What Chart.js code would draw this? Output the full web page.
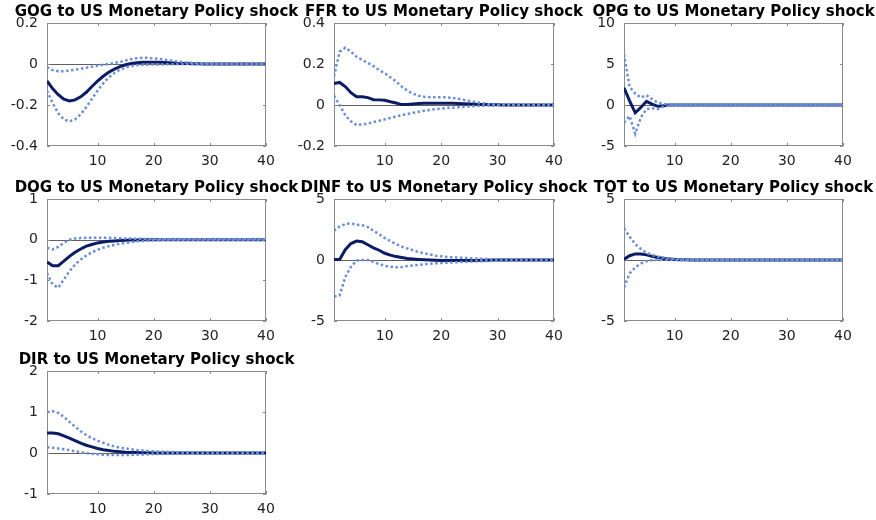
<!DOCTYPE html>
<html>
<head>
<meta charset="utf-8">
<script src="https://cdn.jsdelivr.net/npm/chart.js@4"></script>
<style>
  html, body { margin: 0; padding: 0; background: #fff; overflow: hidden; }
  body { width: 876px; height: 520px; position: relative; }
  canvas { position: absolute; }
</style>
</head>
<body>
<canvas id="gog"></canvas>
<canvas id="ffr"></canvas>
<canvas id="opg"></canvas>
<canvas id="dog"></canvas>
<canvas id="dinf"></canvas>
<canvas id="tot"></canvas>
<canvas id="dir"></canvas>
<script>
// horizons 1..40 and the x tick labels
const horizons = [1,2,3,4,5,6,7,8,9,10,11,12,13,14,15,16,17,18,19,20,21,22,23,24,25,26,27,28,29,30,31,32,33,34,35,36,37,38,39,40];
const xTicks = [10, 20, 30, 40];

// GOG
const gogIrf = [-0.083,-0.12,-0.15,-0.172,-0.18,-0.175,-0.16,-0.138,-0.11,-0.083,-0.06,-0.04,-0.025,-0.013,-0.004,0.002,0.006,0.008,0.009,0.009,0.008,0.007,0.006,0.004,0.003,0.002,0.001,0.001,0,0,0,0,0,0,0,0,0,0,0,0];
const gogHi  = [-0.015,-0.03,-0.035,-0.035,-0.032,-0.028,-0.023,-0.018,-0.013,-0.008,-0.004,0,0.005,0.01,0.017,0.023,0.028,0.03,0.03,0.028,0.025,0.021,0.017,0.013,0.01,0.007,0.005,0.003,0.002,0.001,0,0,0,0,0,0,0,0,0,0];
const gogLo  = [-0.13,-0.19,-0.24,-0.27,-0.28,-0.27,-0.245,-0.21,-0.17,-0.13,-0.095,-0.066,-0.044,-0.028,-0.017,-0.01,-0.006,-0.004,-0.003,-0.003,-0.002,-0.002,-0.001,-0.001,0,0,0,0,0,0,0,0,0,0,0,0,0,0,0,0];
const gogTicks = [-0.4, -0.2, 0, 0.2];

// FFR
const ffrIrf = [0.105,0.11,0.09,0.06,0.04,0.04,0.036,0.026,0.025,0.023,0.016,0.01,0.002,0.003,0.005,0.007,0.008,0.008,0.009,0.009,0.009,0.008,0.007,0.006,0.005,0.004,0.003,0.002,0.001,0.001,0,0,0,0,0,0,0,0,0,0];
const ffrHi  = [0.14,0.26,0.28,0.26,0.235,0.22,0.205,0.19,0.17,0.155,0.135,0.115,0.09,0.07,0.055,0.045,0.04,0.038,0.038,0.038,0.037,0.035,0.03,0.025,0.02,0.015,0.01,0.006,0.003,0.002,0.001,0,0,0,0,0,0,0,0,0];
const ffrLo  = [0.045,0,-0.05,-0.08,-0.098,-0.095,-0.09,-0.083,-0.077,-0.07,-0.063,-0.056,-0.05,-0.044,-0.038,-0.033,-0.028,-0.024,-0.02,-0.017,-0.015,-0.013,-0.011,-0.009,-0.007,-0.005,-0.004,-0.003,-0.002,-0.001,0,0,0,0,0,0,0,0,0,0];
const ffrTicks = [-0.2, 0, 0.2, 0.4];

// OPG
const opgIrf = [2.1,0.5,-0.95,-0.3,0.45,0.1,-0.16,-0.1,0,0,0,0,0,0,0,0,0,0,0,0,0,0,0,0,0,0,0,0,0,0,0,0,0,0,0,0,0,0,0,0];
const opgHi  = [6.2,2.2,1.4,0.9,1.2,0.7,0.3,0.15,0.05,0.02,0,0,0,0,0,0,0,0,0,0,0,0,0,0,0,0,0,0,0,0,0,0,0,0,0,0,0,0,0,0];
const opgLo  = [-2.15,-1.35,-3.5,-1.5,-0.5,-0.4,-0.5,-0.2,-0.05,-0.02,0,0,0,0,0,0,0,0,0,0,0,0,0,0,0,0,0,0,0,0,0,0,0,0,0,0,0,0,0,0];
const opgTicks = [-5, 0, 5, 10];

// DOG
const dogIrf = [-0.55,-0.64,-0.64,-0.53,-0.41,-0.31,-0.23,-0.16,-0.12,-0.08,-0.06,-0.04,-0.03,-0.02,-0.015,-0.01,-0.007,-0.005,-0.003,-0.002,-0.001,0,0,0,0,0,0,0,0,0,0,0,0,0,0,0,0,0,0,0];
const dogHi  = [-0.2,-0.24,-0.18,-0.08,0,0.03,0.04,0.045,0.05,0.05,0.048,0.045,0.04,0.035,0.03,0.026,0.022,0.02,0.017,0.015,0.013,0.012,0.011,0.01,0.01,0.01,0.01,0.01,0.01,0.01,0.01,0.01,0.01,0.01,0.01,0.01,0.01,0.01,0.01,0.01];
const dogLo  = [-0.82,-1.1,-1.18,-0.98,-0.78,-0.61,-0.49,-0.39,-0.31,-0.25,-0.2,-0.16,-0.13,-0.1,-0.08,-0.06,-0.04,-0.03,-0.02,-0.01,-0.005,0,0,0,0,0,0,0,0,0,0,0,0,0,0,0,0,0,0,0];
const dogTicks = [-2, -1, 0, 1];

// DINF
const dinfIrf = [0.05,0.05,0.85,1.35,1.55,1.5,1.25,1.0,0.8,0.55,0.4,0.28,0.2,0.13,0.09,0.05,0.02,0,-0.02,-0.04,-0.05,-0.05,-0.05,-0.05,-0.05,-0.04,-0.03,-0.02,-0.01,0,0,0,0,0,0,0,0,0,0,0];
const dinfHi  = [2.4,2.75,2.95,3.0,2.9,2.85,2.7,2.4,2.1,1.8,1.55,1.3,1.1,0.95,0.8,0.65,0.55,0.45,0.35,0.3,0.25,0.22,0.2,0.17,0.15,0.12,0.1,0.08,0.06,0.05,0.04,0.035,0.03,0.025,0.02,0.02,0.015,0.01,0.01,0.01];
const dinfLo  = [-3.0,-2.9,-1.4,-0.55,-0.05,0,0,-0.15,-0.33,-0.48,-0.55,-0.6,-0.58,-0.5,-0.45,-0.4,-0.35,-0.3,-0.27,-0.25,-0.22,-0.2,-0.18,-0.16,-0.14,-0.12,-0.1,-0.08,-0.06,-0.05,-0.04,-0.03,-0.025,-0.02,-0.015,-0.01,-0.01,-0.01,-0.01,-0.01];
const dinfTicks = [-5, 0, 5];

// TOT
const totIrf = [0.05,0.35,0.5,0.5,0.42,0.3,0.2,0.12,0.08,0.05,0.03,0.02,0.01,0.01,0,0,0,0,0,0,0,0,0,0,0,0,0,0,0,0,0,0,0,0,0,0,0,0,0,0];
const totHi  = [2.6,1.9,1.3,0.9,0.6,0.4,0.28,0.2,0.12,0.08,0.05,0.03,0.02,0.01,0.01,0,0,0,0,0,0,0,0,0,0,0,0,0,0,0,0,0,0,0,0,0,0,0,0,0];
const totLo  = [-2.25,-1.1,-0.6,-0.3,-0.1,0,0.02,0.02,0.02,0.01,0.01,0,0,0,0,0,0,0,0,0,0,0,0,0,0,0,0,0,0,0,0,0,0,0,0,0,0,0,0,0];
const totTicks = [-5, 0, 5];

// DIR
const dirIrf = [0.49,0.49,0.47,0.42,0.36,0.3,0.24,0.19,0.15,0.11,0.08,0.06,0.04,0.03,0.02,0.015,0.01,0.007,0.005,0.003,0.002,0.001,0,0,0,0,0,0,0,0,0,0,0,0,0,0,0,0,0,0];
const dirHi  = [1.0,1.02,0.98,0.88,0.76,0.64,0.53,0.44,0.36,0.3,0.25,0.2,0.16,0.13,0.11,0.09,0.07,0.06,0.05,0.04,0.035,0.03,0.025,0.02,0.02,0.015,0.015,0.01,0.01,0.01,0.01,0.01,0.01,0.01,0.01,0.01,0.01,0.01,0.01,0.01];
const dirLo  = [0.14,0.13,0.11,0.09,0.07,0.04,0.02,0,-0.02,-0.03,-0.04,-0.05,-0.05,-0.05,-0.05,-0.045,-0.04,-0.035,-0.03,-0.025,-0.02,-0.015,-0.01,-0.007,-0.005,-0.003,-0.002,-0.001,0,0,0,0,0,0,0,0,0,0,0,0];
const dirTicks = [-1, 0, 1, 2];

// layout (px): plot area left/top/width/height per panel
const AXIS_W = 47, TITLE_H = 23, XAXIS_H = 24;
const FONT = "'DejaVu Sans', sans-serif";
const SOLID = '#0c1c64';
const BAND = '#6a8fd8';

const panels = [
    { id: 'gog',  title: 'GOG to US Monetary Policy shock',  irf: gogIrf,  hi: gogHi,  lo: gogLo,  ticks: gogTicks,  left: 47,  top: 23,  w: 219, h: 123 },
    { id: 'ffr',  title: 'FFR to US Monetary Policy shock',  irf: ffrIrf,  hi: ffrHi,  lo: ffrLo,  ticks: ffrTicks,  left: 334, top: 23,  w: 220, h: 123 },
    { id: 'opg',  title: 'OPG to US Monetary Policy shock',  irf: opgIrf,  hi: opgHi,  lo: opgLo,  ticks: opgTicks,  left: 624, top: 23,  w: 219, h: 123 },
    { id: 'dog',  title: 'DOG to US Monetary Policy shock',  irf: dogIrf,  hi: dogHi,  lo: dogLo,  ticks: dogTicks,  left: 47,  top: 199, w: 219, h: 122 },
    { id: 'dinf', title: 'DINF to US Monetary Policy shock', irf: dinfIrf, hi: dinfHi, lo: dinfLo, ticks: dinfTicks, left: 334, top: 199, w: 220, h: 122 },
    { id: 'tot',  title: 'TOT to US Monetary Policy shock',  irf: totIrf,  hi: totHi,  lo: totLo,  ticks: totTicks,  left: 624, top: 199, w: 219, h: 122 },
    { id: 'dir',  title: 'DIR to US Monetary Policy shock',  irf: dirIrf,  hi: dirHi,  lo: dirLo,  ticks: dirTicks,  left: 47,  top: 371, w: 219, h: 123 }
];

// matlab style box, inward ticks and zero line
const matlabBox = {
    id: 'matlabBox',
    beforeDatasetsDraw(chart) {
        const { ctx, chartArea: a, scales: { x, y } } = chart;
        ctx.save();
        ctx.lineWidth = 1;
        const y0 = Math.round(y.getPixelForValue(0)) + 0.5;
        ctx.strokeStyle = '#606060';
        ctx.beginPath();
        ctx.moveTo(a.left, y0);
        ctx.lineTo(a.right, y0);
        ctx.stroke();

        ctx.strokeStyle = '#8a8a8a';
        ctx.strokeRect(Math.round(a.left) + 0.5, Math.round(a.top) + 0.5, Math.round(a.width) - 1, Math.round(a.height) - 1);
        ctx.beginPath();
        x.ticks.forEach(t => {
            const px = Math.round(x.getPixelForValue(t.value)) + 0.5;
            ctx.moveTo(px, a.bottom); ctx.lineTo(px, a.bottom - 3);
            ctx.moveTo(px, a.top); ctx.lineTo(px, a.top + 3);
        });
        y.ticks.forEach(t => {
            const py = Math.round(y.getPixelForValue(t.value)) + 0.5;
            ctx.moveTo(a.left, py); ctx.lineTo(a.left + 3, py);
            ctx.moveTo(a.right, py); ctx.lineTo(a.right - 3, py);
        });
        ctx.stroke();
        ctx.restore();
    }
};

function toPoints(values) {
    return horizons.map((h, i) => ({ x: h, y: values[i] }));
}

const hidden = { display: false, drawTicks: false };

panels.forEach(p => {
    const canvas = document.getElementById(p.id);
    canvas.width = AXIS_W + p.w + AXIS_W;
    canvas.height = TITLE_H + p.h + XAXIS_H;
    canvas.style.left = (p.left - AXIS_W) + 'px';
    canvas.style.top = (p.top - TITLE_H) + 'px';

    const band = { borderColor: BAND, borderWidth: 2.5, borderDash: [2.5, 2.5], pointRadius: 0, tension: 0, fill: false };

    new Chart(canvas.getContext('2d'), {
        type: 'line',
        data: {
            datasets: [
                { ...band, label: 'upper', data: toPoints(p.hi) },
                { ...band, label: 'lower', data: toPoints(p.lo) },
                { label: 'irf', data: toPoints(p.irf), borderColor: SOLID, borderWidth: 3, pointRadius: 0, tension: 0, fill: false }
            ]
        },
        options: {
            responsive: false,
            animation: false,
            events: [],
            layout: { padding: 0 },
            plugins: {
                legend: { display: false },
                tooltip: { enabled: false },
                title: {
                    display: true,
                    text: p.title,
                    color: '#000',
                    font: { family: FONT, size: 15, weight: 'bold', lineHeight: 1.2 },
                    padding: { top: 3.5, bottom: 1.5 }
                }
            },
            scales: {
                x: {
                    type: 'linear',
                    min: 1, max: 40,
                    grid: hidden,
                    border: { display: false },
                    ticks: { color: '#222', font: { family: FONT, size: 14 }, padding: 7, callback: v => String(v) },
                    afterBuildTicks: s => { s.ticks = xTicks.map(v => ({ value: v })); },
                    afterFit: s => { s.height = XAXIS_H; }
                },
                y: {
                    min: p.ticks[0], max: p.ticks[p.ticks.length - 1],
                    grid: hidden,
                    border: { display: false },
                    ticks: { color: '#222', font: { family: FONT, size: 14 }, padding: 9, callback: v => String(v) },
                    afterBuildTicks: s => { s.ticks = p.ticks.map(v => ({ value: v })); },
                    afterFit: s => { s.width = AXIS_W; }
                },
                // empty right-hand strip so the title centres over the plot
                pad: {
                    type: 'linear',
                    position: 'right',
                    grid: hidden,
                    border: { display: false },
                    ticks: { display: false },
                    afterFit: s => { s.width = AXIS_W; }
                }
            }
        },
        plugins: [matlabBox]
    });
});
</script>
</body>
</html>
